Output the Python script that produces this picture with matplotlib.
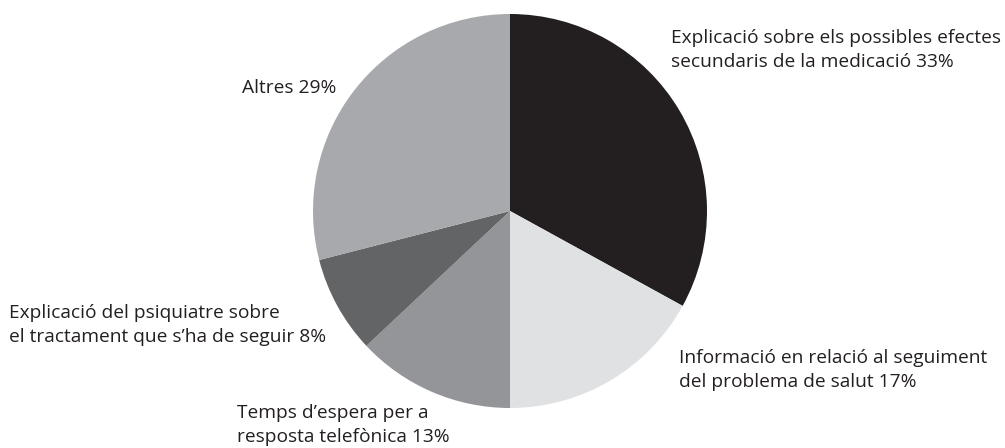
import matplotlib
matplotlib.use("Agg")
import matplotlib.pyplot as plt

labels = [
    "Explicació sobre els possibles efectes\nsecundaris de la medicació 33%",
    "Informació en relació al seguiment\ndel problema de salut 17%",
    "Temps d’espera per a\nresposta telefònica 13%",
    "Explicació del psiquiatre sobre\nel tractament que s’ha de seguir 8%",
    "Altres 29%",
]
values = [33, 17, 13, 8, 29]
colors = ["#231f20", "#e0e1e3", "#939598", "#636466", "#a7a9ac"]

W, H = 1005, 448
fig = plt.figure(figsize=(W / 100, H / 100), dpi=100)
plt.rcParams['font.family'] = ['Open Sans', 'DejaVu Sans']

cx, cy, r = 510, 211, 197
ax = fig.add_axes([(cx - r) / W, (H - cy - r) / H, 2 * r / W, 2 * r / H])
ax.pie(values, colors=colors, startangle=90, counterclock=False, radius=1,
       wedgeprops=dict(linewidth=0))
ax.set_xlim(-1, 1)
ax.set_ylim(-1, 1)
ax.set_aspect('equal')
ax.axis('off')

# label anchor (pixels: x, baseline of first line), alignment
pos = [
    (671, 43, 'left'),
    (679, 363, 'left'),
    (237, 418, 'left'),
    (9, 318, 'left'),
    (336, 93, 'right'),
]
fs = 13.8
line_h = 24
for lab, (x, y, ha) in zip(labels, pos):
    for i, line in enumerate(lab.split("\n")):
        fig.text(x / W, 1 - (y + i * line_h) / H, line, ha=ha, va='baseline',
                 fontsize=fs, color='#231f20', transform=fig.transFigure)

fig.savefig("out.png", dpi=100)
